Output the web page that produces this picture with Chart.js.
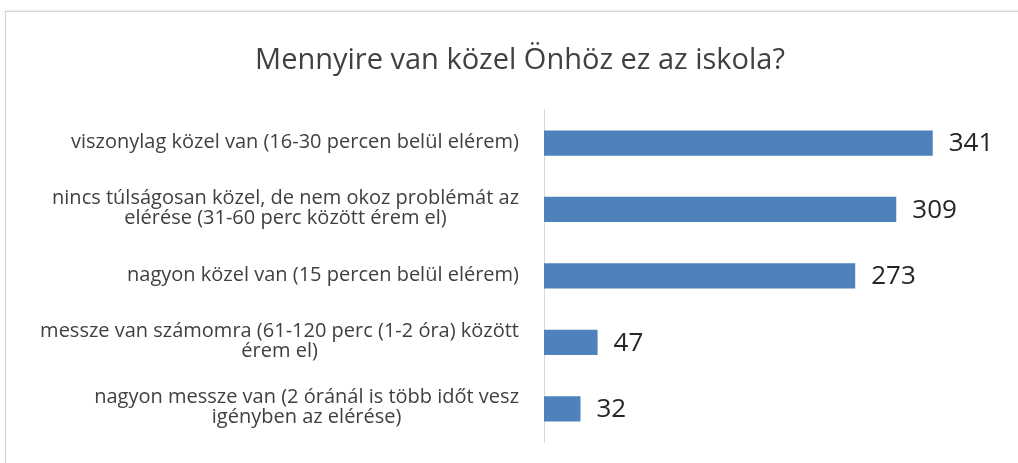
<!DOCTYPE html>
<html>
<head>
<meta charset="utf-8">
<script src="https://cdn.jsdelivr.net/npm/chart.js@4/dist/chart.umd.min.js"></script>
<style>
	body { margin: 0; background: #fff; }
	#wrap { position: relative; width: 1018px; height: 463px; overflow: hidden; }
	#frame {
		position: absolute; left: 5px; top: 11px; width: 1040px; height: 480px;
		border: 1px solid #d4d4d4; box-shadow: 0 -1px 2px rgba(0,0,0,0.08);
	}
	canvas { position: absolute; left: 0; top: 0; }
</style>
</head>
<body>
<div id="wrap">
	<div id="frame"></div>
	<canvas id="chart" width="1018" height="463"></canvas>
</div>
<script>
// chart data
const title = 'Mennyire van közel Önhöz ez az iskola?';
const categories = [
	['viszonylag közel van (16-30 percen belül elérem)'],
	['nincs túlságosan közel, de nem okoz problémát az', 'elérése (31-60 perc között érem el)'],
	['nagyon közel van (15 percen belül elérem)'],
	['messze van számomra (61-120 perc (1-2 óra) között', 'érem el)'],
	['nagyon messze van (2 óránál is több időt vesz', 'igényben az elérése)']
];
const values = [341, 309, 273, 47, 32];

const labelFont = '20px "Open Sans"';
const valueFont = '26px "Open Sans"';

// draws the category labels: lines centered inside a right-aligned block
const categoryLabels = {
	id: 'categoryLabels',
	afterDraw(chart) {
		const ctx = chart.ctx;
		const yScale = chart.scales.y;
		const rightX = 519;
		const lineH = 20;
		ctx.save();
		ctx.font = labelFont;
		ctx.fillStyle = '#404040';
		ctx.textAlign = 'center';
		ctx.textBaseline = 'middle';
		categories.forEach((lines, i) => {
			const y = yScale.getPixelForTick(i);
			const maxW = Math.max(...lines.map(l => ctx.measureText(l).width));
			const cx = rightX - maxW / 2;
			const startY = y - (lines.length - 1) * lineH / 2 - 1;
			lines.forEach((line, j) => {
				ctx.fillText(line, cx, startY + j * lineH);
			});
		});
		ctx.restore();
	}
};

// value labels to the right of each bar
const valueLabels = {
	id: 'valueLabels',
	afterDatasetsDraw(chart) {
		const ctx = chart.ctx;
		const meta = chart.getDatasetMeta(0);
		ctx.save();
		ctx.font = valueFont;
		ctx.fillStyle = '#262626';
		ctx.textAlign = 'left';
		ctx.textBaseline = 'middle';
		meta.data.forEach((bar, i) => {
			ctx.fillText(String(values[i]), bar.x + 16, bar.y + 1);
		});
		ctx.restore();
	}
};

document.addEventListener('DOMContentLoaded', () => {
	const canvas = document.getElementById('chart');
	new Chart(canvas, {
		type: 'bar',
		data: {
			labels: categories,
			datasets: [{
				data: values,
				backgroundColor: '#4F81BD',
				borderWidth: 0,
				barPercentage: 0.38,
				categoryPercentage: 1
			}]
		},
		options: {
			indexAxis: 'y',
			responsive: false,
			animation: false,
			layout: {
				padding: { left: 40, right: 18, top: 0, bottom: 21 }
			},
			plugins: {
				legend: { display: false },
				tooltip: { enabled: false },
				title: {
					display: true,
					text: title,
					color: '#404040',
					font: { family: 'Open Sans', size: 29, weight: 'normal' },
					padding: { top: 43, bottom: 32 }
				}
			},
			scales: {
				x: {
					display: false,
					min: 0,
					max: 400
				},
				y: {
					grid: { display: false },
					border: { display: true, color: '#d9d9d9', width: 1 },
					ticks: { display: false },
					afterFit: (scale) => { scale.width = 504; }
				}
			}
		},
		plugins: [categoryLabels, valueLabels]
	});
});
</script>
</body>
</html>
